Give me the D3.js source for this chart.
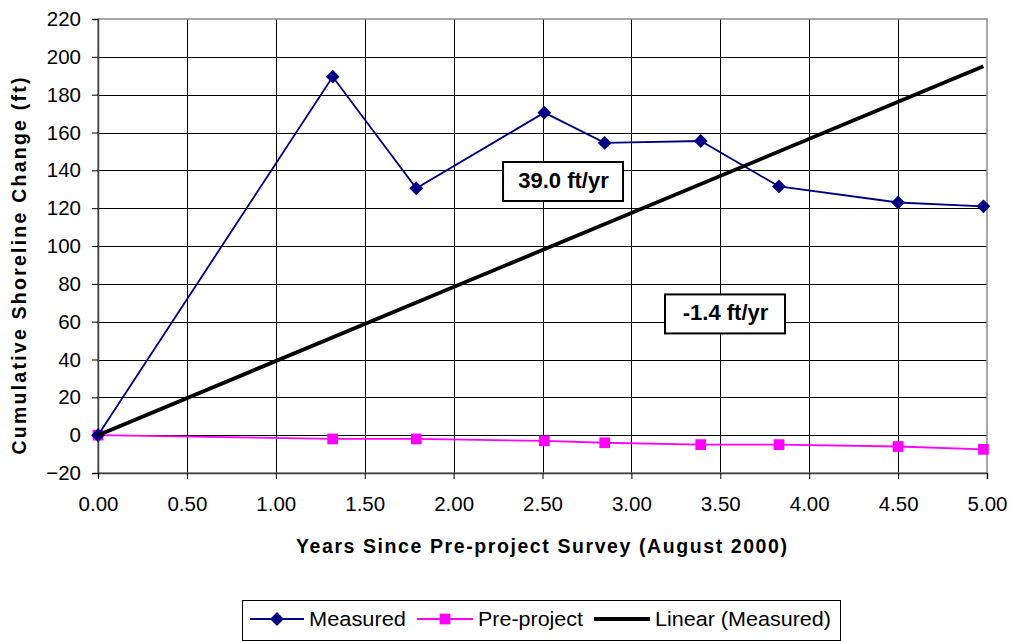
<!DOCTYPE html>
<html>
<head>
<meta charset="utf-8">
<script src="https://cdn.jsdelivr.net/npm/d3@7"></script>
<style>
  body { margin: 0; background: #fff; }
  text { font-family: "Liberation Sans", Arial, sans-serif; }
</style>
</head>
<body>
<svg id="chart" width="1015" height="641"></svg>
<script>
// years since survey and cumulative change (ft)
const years = [0, 1.32, 1.79, 2.51, 2.85, 3.39, 3.83, 4.50, 4.98]
const measured = [0, 189.5, 130.5, 170.5, 154.5, 155.5, 131.5, 123, 121]
const preProject = [0, -2, -2, -3, -4, -5, -5, -6, -7.5]
const trendYears = [0, 4.98]
const trendValues = [0, 195]
const xTicks = [0, 0.5, 1, 1.5, 2, 2.5, 3, 3.5, 4, 4.5, 5]
const yTicks = d3.range(-20, 221, 20)
const slopeLabels = [
  { text: "39.0 ft/yr", x: 2.278, y: 144.4 },
  { text: "-1.4 ft/yr", x: 3.189, y: 74.4 }
]
const legendItems = ["Measured", "Pre-project", "Linear (Measured)"]

let svg = d3.select("#chart")
let plotLeft = 98, plotRight = 987, plotTop = 19, plotBottom = 473

let x = d3.scaleLinear().domain([0, 5]).range([plotLeft, plotRight])
let y = d3.scaleLinear().domain([-20, 220]).range([plotBottom, plotTop])

// gridlines
svg.append("g")
  .selectAll("line")
  .data(yTicks.filter(d => d > -20 && d < 220))
  .join("line")
  .attr("x1", plotLeft).attr("x2", plotRight)
  .attr("y1", d => Math.round(y(d)) + 0.5).attr("y2", d => Math.round(y(d)) + 0.5)
  .attr("stroke", "#000").attr("stroke-width", 1)
svg.append("g")
  .selectAll("line")
  .data(xTicks.filter(d => d > 0 && d < 5))
  .join("line")
  .attr("x1", d => Math.round(x(d)) + 0.5).attr("x2", d => Math.round(x(d)) + 0.5)
  .attr("y1", plotTop).attr("y2", plotBottom)
  .attr("stroke", "#000").attr("stroke-width", 1)

// frame
svg.append("rect")
  .attr("x", plotLeft).attr("y", plotTop)
  .attr("width", plotRight - plotLeft).attr("height", plotBottom - plotTop)
  .attr("fill", "none").attr("stroke", "#8a8a8a").attr("stroke-width", 1.5)

// axes
let yAxis = d3.axisLeft(y).tickValues(yTicks).tickSize(6).tickPadding(11)
let gy = svg.append("g").attr("transform", `translate(${plotLeft},0)`).call(yAxis)
let xAxis = d3.axisBottom(x).tickValues(xTicks).tickSize(6).tickPadding(17)
  .tickFormat(d3.format(".2f"))
let gx = svg.append("g").attr("transform", `translate(0,${plotBottom})`).call(xAxis)
for (let g of [gx, gy]) {
  g.select(".domain").attr("stroke", "#404040").attr("stroke-width", 1.5)
  g.selectAll(".tick line").attr("stroke", "#000")
  g.selectAll("text").style("font-size", "20.5px").attr("fill", "#000")
    .style("font-family", "Liberation Sans, Arial, sans-serif")
}

// axis titles
svg.append("text")
  .attr("x", 541.5).attr("y", 553)
  .attr("text-anchor", "middle")
  .attr("textLength", 491).attr("lengthAdjust", "spacing")
  .style("font-size", "19.5px").style("font-weight", "bold")
  .text("Years Since Pre-project Survey (August 2000)")
svg.append("text")
  .attr("transform", "translate(26,266) rotate(-90)")
  .attr("text-anchor", "middle")
  .attr("textLength", 377).attr("lengthAdjust", "spacing")
  .style("font-size", "19.5px").style("font-weight", "bold")
  .text("Cumulative Shoreline Change (ft)")

let line = d3.line().x(d => x(d[0])).y(d => y(d[1]))
let diamond = d3.symbol().type(d3.symbolSquare).size(95)
let square = d3.symbol().type(d3.symbolSquare).size(115)

// pre-project series
svg.append("path")
  .datum(d3.zip(years, preProject))
  .attr("d", line).attr("fill", "none")
  .attr("stroke", "#ff00ff").attr("stroke-width", 1.8)
svg.append("g").selectAll("path")
  .data(d3.zip(years, preProject))
  .join("path")
  .attr("d", square)
  .attr("transform", d => `translate(${x(d[0])},${y(d[1])})`)
  .attr("fill", "#ff00ff")

// measured series
svg.append("path")
  .datum(d3.zip(years, measured))
  .attr("d", line).attr("fill", "none")
  .attr("stroke", "#000080").attr("stroke-width", 1.8)
svg.append("g").selectAll("path")
  .data(d3.zip(years, measured))
  .join("path")
  .attr("d", diamond)
  .attr("transform", d => `translate(${x(d[0])},${y(d[1])}) rotate(45)`)
  .attr("fill", "#000080")

// linear trend
svg.append("path")
  .datum(d3.zip(trendYears, trendValues))
  .attr("d", line).attr("fill", "none")
  .attr("stroke", "#000").attr("stroke-width", 3.8)

// slope labels
let labels = svg.append("g").selectAll("g")
  .data(slopeLabels)
  .join("g")
  .attr("transform", d => `translate(${x(d.x)},${y(d.y)})`)
labels.append("rect")
  .attr("x", 0).attr("y", 0).attr("width", 120).attr("height", 39)
  .attr("fill", "#fff").attr("stroke", "#000").attr("stroke-width", 2)
labels.append("text")
  .attr("x", 60.5).attr("y", 26)
  .attr("text-anchor", "middle")
  .style("font-size", "22px").style("font-weight", "bold")
  .text(d => d.text)

// legend
let legend = svg.append("g").attr("transform", "translate(242,600)")
legend.append("rect")
  .attr("x", 0.5).attr("y", 0.5)
  .attr("width", 598).attr("height", 40)
  .attr("fill", "#fff").attr("stroke", "#000").attr("stroke-width", 1)
let entries = [
  { x0: 8, x1: 62, color: "#000080", w: 1.8, sym: diamond, rot: 45, tx: 67, len: 97 },
  { x0: 175, x1: 231, color: "#ff00ff", w: 1.8, sym: square, rot: 0, tx: 236, len: 105 },
  { x0: 352, x1: 408, color: "#000", w: 3.8, sym: null, rot: 0, tx: 413, len: 176 }
]
entries.forEach((e, i) => {
  legend.append("line")
    .attr("x1", e.x0).attr("x2", e.x1).attr("y1", 19).attr("y2", 19)
    .attr("stroke", e.color).attr("stroke-width", e.w)
  if (e.sym)
    legend.append("path").attr("d", e.sym)
      .attr("transform", `translate(${(e.x0 + e.x1) / 2},19) rotate(${e.rot})`)
      .attr("fill", e.color)
  legend.append("text")
    .attr("x", e.tx).attr("y", 26)
    .attr("textLength", e.len).attr("lengthAdjust", "spacingAndGlyphs")
    .style("font-size", "20.5px")
    .text(legendItems[i])
})
</script>
</body>
</html>
